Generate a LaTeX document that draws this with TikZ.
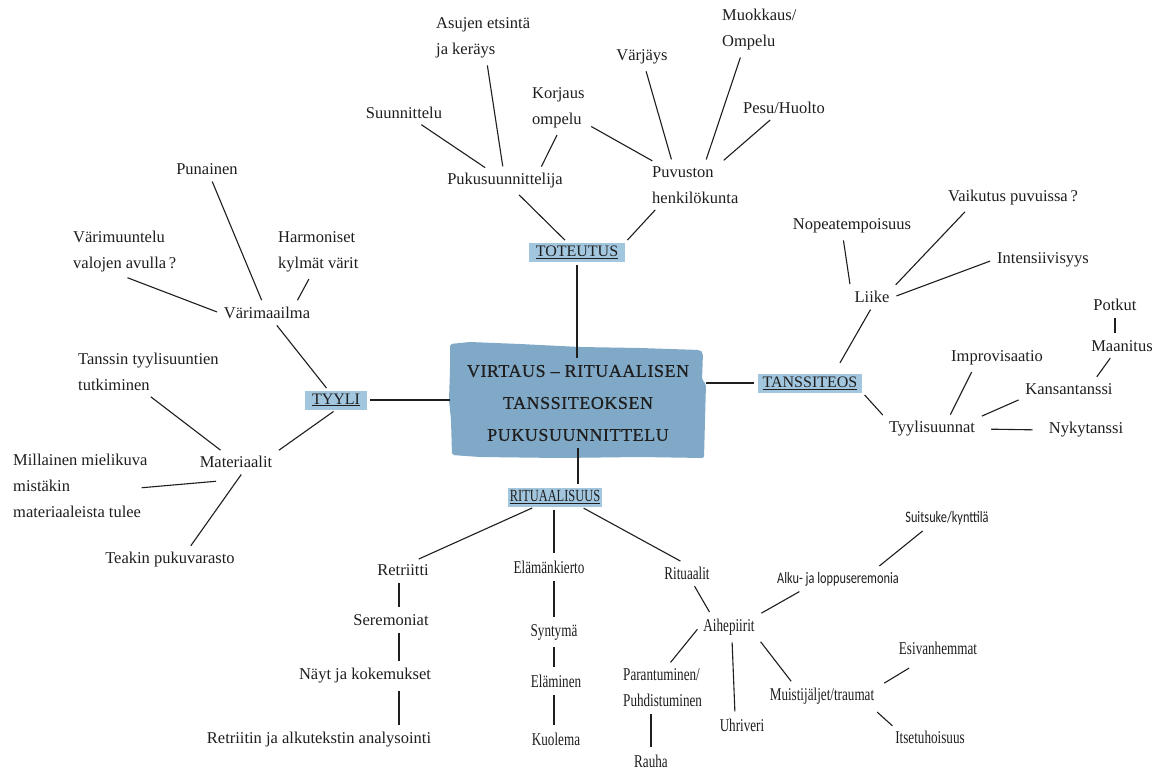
\documentclass[tikz,border=0pt]{standalone}
\usepackage{fontspec}
\setmainfont{Liberation Serif}
\newfontfamily\condfont[FakeStretch=0.73]{Liberation Serif}
\newfontfamily\sansfnt[FakeStretch=0.77]{Carlito}
\newfontfamily\titlefnt[FakeBold=0.6,LetterSpace=3]{Liberation Serif}
\usetikzlibrary{calc}
\definecolor{mainblue}{HTML}{80A8C7}
\definecolor{hlblue}{HTML}{A2C6DE}
\definecolor{ink}{HTML}{1E1E1E}
\begin{document}
\begin{tikzpicture}[x=1pt,y=-1pt,
  every node/.style={text=ink},
  lbl/.style={font=\fontsize{16.5}{26}\selectfont, inner sep=4pt, align=left},
  cnd/.style={font=\condfont\fontsize{18}{26}\selectfont, inner sep=4pt, align=left},
  snode/.style={font=\sansfnt\fontsize{16}{22}\selectfont, inner sep=4pt},
  hl/.style={fill=hlblue, font=\fontsize{16}{20}\selectfont, inner xsep=7pt, inner ysep=1pt, minimum height=19pt},
  hlc/.style={hl, font=\condfont\fontsize{17}{20}\selectfont, inner xsep=2pt},
  conn/.style={draw=ink, line width=1.1pt, shorten <=3pt, shorten >=3pt},
  heavy/.style={conn, line width=1.8pt}]
\useasboundingbox (0,0) rectangle (1170,769);
\fill[white] (0,0) rectangle (1170,769);
% central irregular box
\fill[mainblue, rounded corners=2pt] (450,344) -- (470,342) -- (520,344) -- (580,347) -- (640,348)
  -- (700,350) -- (703,353) -- (702,380) -- (706,384) -- (705,420) -- (704,458) -- (640,457)
  -- (560,458) -- (480,457) -- (452,455) -- (451,420) -- (449,400) -- (450,370) -- cycle;
\node[inner sep=0pt, minimum width=256pt, minimum height=89pt, align=center,
  font=\titlefnt\fontsize{18}{32}\selectfont] (main) at (578,403)
  {VIRTAUS – RITUAALISEN\\TANSSITEOKSEN\\PUKUSUUNNITTELU};
\coordinate (rx) at (399,0);
\coordinate (ex) at (554,0);
% TOTEUTUS
\node[hl] (toteutus) at (577,252) {\underline{TOTEUTUS}};
\node[lbl] (puku) at (505,181) {Pukusuunnittelija};
\node[lbl, anchor=west] (puv) at (648,185) {Puvuston\\henkilökunta};
\node[lbl] (suun) at (404,113) {Suunnittelu};
\node[lbl, anchor=west] (asu) at (432,38) {Asujen etsintä\\ja keräys};
\node[lbl, anchor=west] (kor) at (528,108) {Korjaus\\ompelu};
\node[lbl] (varj) at (642,57) {Värjäys};
\node[lbl, anchor=west] (muok) at (718,30) {Muokkaus/\\Ompelu};
\node[lbl] (pesu) at (784,108) {Pesu/Huolto};
% TYYLI
\node[hl] (tyyli) at (336,400) {\underline{TYYLI}};
\node[lbl] (varim) at (267,313) {Värimaailma};
\node[lbl] (pun) at (207,169) {Punainen};
\node[lbl, anchor=west] (vmu) at (69,252) {Värimuuntelu\\valojen avulla\,?};
\node[lbl, anchor=west] (harm) at (274,252) {Harmoniset\\kylmät värit};
\node[lbl] (mat) at (236,462) {Materiaalit};
\node[lbl, anchor=west] (tans) at (74,372) {Tanssin tyylisuuntien\\tutkiminen};
\node[lbl, anchor=west] (mill) at (9,486) {Millainen mielikuva\\mistäkin\\materiaaleista tulee};
\node[lbl] (teak) at (170,560) {Teakin pukuvarasto};
% TANSSITEOS
\node[hl, inner xsep=5pt] (tanss) at (810,383) {\underline{TANSSITEOS}};
\node[lbl] (liike) at (872,297) {Liike};
\node[lbl] (nop) at (852,226) {Nopeatempoisuus};
\node[lbl] (vaik) at (1013,198) {Vaikutus puvuissa\,?};
\node[lbl] (int) at (1043,260) {Intensiivisyys};
\node[lbl] (tyyl) at (932,429) {Tyylisuunnat};
\node[lbl] (impr) at (997,358) {Improvisaatio};
\node[lbl] (kans) at (1069,389) {Kansantanssi};
\node[lbl] (maan) at (1122,346) {Maanitus};
\node[lbl] (potk) at (1115,305) {Potkut};
\node[lbl] (nyky) at (1086,430) {Nykytanssi};
% RITUAALISUUS
\node[hlc] (ritu) at (555,497) {\underline{RITUAALISUUS}};
\node[lbl] (retr) at (403,570) {Retriitti};
\node[lbl] (sere) at (391,620) {Seremoniat};
\node[lbl] (nayt) at (365,676) {Näyt ja kokemukset};
\node[lbl] (reta) at (319,740) {Retriitin ja alkutekstin analysointi};
\node[cnd] (elam) at (549,567) {Elämänkierto};
\node[cnd] (synt) at (554,632) {Syntymä};
\node[cnd] (elami) at (556,681) {Eläminen};
\node[cnd] (kuol) at (556,739) {Kuolema};
\node[cnd] (rit) at (687,573) {Rituaalit};
\node[cnd] (aihe) at (729,627) {Aihepiirit};
\node[snode] (alku) at (838,579) {Alku- ja loppuseremonia};
\node[snode] (suit) at (947,518) {Suitsuke/kynttilä};
\node[cnd, anchor=west] (par) at (619,688) {Parantuminen/\\Puhdistuminen};
\node[cnd] (rauha) at (651,761) {Rauha};
\node[cnd] (uhri) at (742,725) {Uhriveri};
\node[cnd] (muis) at (822,696) {Muistijäljet/traumat};
\node[cnd] (esiv) at (938,648) {Esivanhemmat};
\node[cnd] (itse) at (930,737) {Itsetuhoisuus};
% connectors: TOTEUTUS
\draw[conn] (suun) -- (puku);
\draw[conn] (asu) -- (puku);
\draw[conn] (kor.south) -- ([xshift=35pt]puku.north);
\draw[conn] (kor) -- (puv);
\draw[conn] (varj) -- ([xshift=-23pt]puv.north);
\draw[conn] ([xshift=-18pt]muok.south) -- ([xshift=10pt]puv.north);
\draw[conn] (pesu) -- (puv);
\draw[conn] (puku) -- (toteutus);
\draw[conn] ([xshift=-38pt]puv.south) -- (toteutus.north east);
\draw[conn, shorten >=0pt] (toteutus.south) -- (toteutus.south |- main.north);
% TYYLI
\draw[conn] (pun) -- (varim);
\draw[conn] (vmu.south) -- (varim.west);
\draw[conn] ([xshift=-8pt]harm.south) -- ([xshift=29pt]varim.north);
\draw[conn] (varim) -- (tyyli);
\draw[conn, shorten >=0pt] (tyyli.east) -- (tyyli.east -| main.west);
\draw[conn] (tyyli.south) -- (mat.north east);
\draw[conn] (tans.south) -- (mat);
\draw[conn] ([xshift=-13pt,yshift=-2pt]mill.east) -- ([xshift=-17pt,yshift=-9pt]mat.south);
\draw[conn] ([xshift=7pt]mat.south) -- ([xshift=19pt]teak.north);
% TANSSITEOS
\draw[conn] ([xshift=-9pt]nop.south) -- (liike.north west);
\draw[conn] ([xshift=-46pt]vaik.south) -- (liike.north east);
\draw[conn] (int.west) -- (liike.east);
\draw[conn, shorten >=12pt] (liike.south) -- ([xshift=24pt]tanss.north);
\draw[conn, shorten >=0pt] (tanss.west) -- (tanss.west -| main.east);
\draw[conn] (tanss.south east) -- (tyyl.north west);
\draw[conn] ([xshift=17pt]tyyl.north) -- ([xshift=-24pt]impr.south);
\draw[conn] (tyyl.north east) -- (kans.south west);
\draw[conn] ([xshift=26pt]kans.north) -- ([xshift=-10pt]maan.south);
\draw[conn] (potk.south) -- (potk.south |- maan.north);
\draw[conn, shorten <=12pt, shorten >=12pt] (tyyl.east) -- (nyky.west);
% RITUAALISUUS
\draw[conn, shorten <=0pt] (main.south) -- (main.south |- ritu.north);
\draw[conn] ([xshift=-20pt]ritu.south) -- ([xshift=13pt]retr.north);
\draw[conn] (ritu.south -| ex) -- (elam.north -| ex);
\draw[conn] ([xshift=26pt]ritu.south) -- ([xshift=-4pt]rit.north);
\draw[conn] (retr.south -| rx) -- (sere.north -| rx);
\draw[conn] (sere.south -| rx) -- (nayt.north -| rx);
\draw[conn] (nayt.south -| rx) -- (reta.north -| rx);
\draw[heavy] (elam.south -| ex) -- (synt.north -| ex);
\draw[heavy] (synt.south -| ex) -- (elami.north -| ex);
\draw[heavy] (elami.south -| ex) -- (kuol.north -| ex);
\draw[conn] ([xshift=6pt]rit.south) -- ([xshift=-18pt]aihe.north);
\draw[conn] (aihe.north east) -- ([xshift=-36pt]alku.south);
\draw[conn] ([xshift=39pt]alku.north) -- ([xshift=-22pt]suit.south);
\draw[conn] (aihe.west) -- ([xshift=6pt]par.north);
\draw[conn] (rauha.north) -- (rauha.north |- par.south);
\draw[conn] ([xshift=3pt]aihe.south) -- ([xshift=-7pt]uhri.north);
\draw[conn] (aihe.south east) -- ([xshift=-29pt]muis.north);
\draw[conn, shorten <=1pt, shorten >=1pt] ([xshift=5pt]muis.north east) -- ([xshift=-28pt,yshift=-9pt]esiv.south);
\draw[conn, shorten <=1pt, shorten >=1pt] ([xshift=-2pt,yshift=-3pt]muis.south east) -- ([xshift=2pt]itse.north west);
\end{tikzpicture}
\end{document}
